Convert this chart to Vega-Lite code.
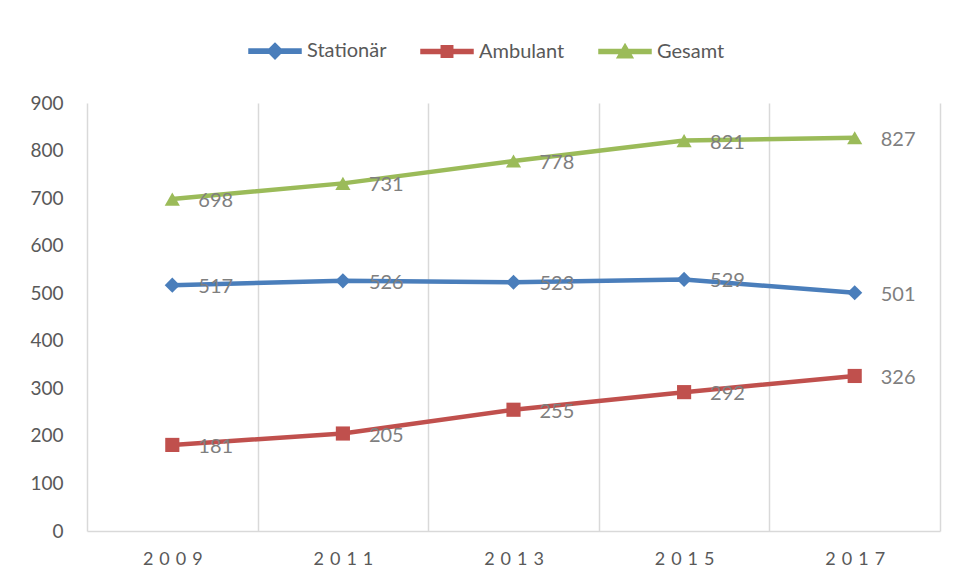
{
  "$schema": "https://vega.github.io/schema/vega-lite/v6.json",
  "width": 853,
  "height": 428,
  "autosize": {"type": "none"},
  "padding": {"left": 87, "top": 103, "right": 20, "bottom": 49},
  "background": "white",
  "config": {"view": {"stroke": null}, "font": "Lato"},
  "data": {
    "values": [
      {"year": "2009", "series": "Stationär", "value": 517},
      {"year": "2011", "series": "Stationär", "value": 526},
      {"year": "2013", "series": "Stationär", "value": 523},
      {"year": "2015", "series": "Stationär", "value": 529},
      {"year": "2017", "series": "Stationär", "value": 501},
      {"year": "2009", "series": "Ambulant", "value": 181},
      {"year": "2011", "series": "Ambulant", "value": 205},
      {"year": "2013", "series": "Ambulant", "value": 255},
      {"year": "2015", "series": "Ambulant", "value": 292},
      {"year": "2017", "series": "Ambulant", "value": 326},
      {"year": "2009", "series": "Gesamt", "value": 698},
      {"year": "2011", "series": "Gesamt", "value": 731},
      {"year": "2013", "series": "Gesamt", "value": 778},
      {"year": "2015", "series": "Gesamt", "value": 821},
      {"year": "2017", "series": "Gesamt", "value": 827}
    ]
  },
  "encoding": {
    "x": {
      "field": "year",
      "type": "ordinal",
      "scale": {"type": "band", "paddingInner": 0, "paddingOuter": 0},
      "axis": {
        "title": null,
        "tickBand": "extent",
        "grid": true,
        "gridColor": "#d9d9d9",
        "gridWidth": 1.5,
        "ticks": false,
        "domainColor": "#d9d9d9",
        "domainWidth": 1.5,
        "labelAngle": 0,
        "labelFontSize": 18,
        "labelColor": "#595959",
        "labelPadding": 19,
        "labelExpr": "join(split(datum.label, ''), '\u2004')"
      }
    },
    "y": {
      "field": "value",
      "type": "quantitative",
      "scale": {"domain": [0, 900], "nice": false},
      "axis": {
        "title": null,
        "grid": false,
        "ticks": false,
        "domain": false,
        "values": [0, 100, 200, 300, 400, 500, 600, 700, 800, 900],
        "labelFontSize": 19,
        "labelColor": "#595959",
        "labelPadding": 24
      }
    },
    "color": {
      "field": "series",
      "type": "nominal",
      "scale": {"domain": ["Stationär", "Ambulant", "Gesamt"], "range": ["#4a7ebb", "#c0504d", "#9bbb59"]},
      "legend": {
        "orient": "none",
        "legendX": 161,
        "legendY": -79,
        "direction": "horizontal",
        "title": null,
        "symbolSize": 2704,
        "labelFontSize": 20,
        "labelColor": "#595959",
        "labelOffset": 5,
        "columnPadding": 31,
        "encode": {
          "symbols": {
            "update": {
              "shape": {"signal": "datum.value === 'Stationär' ? 'M-1,-0.08H1V0.08H-1Z M0,-0.3L0.3,0L0,0.3L-0.3,0Z' : datum.value === 'Ambulant' ? 'M-1,-0.08H1V0.08H-1Z M-0.22,-0.22H0.22V0.22H-0.22Z' : 'M-1,-0.08H1V0.08H-1Z M0,-0.28L0.3,0.24H-0.3Z'"},
              "fill": {"scale": "color", "field": "value"},
              "stroke": {"value": "transparent"},
              "size": {"value": 2704},
              "opacity": {"value": 1}
            }
          }
        }
      }
    }
  },
  "layer": [
    {
      "mark": {"type": "line", "strokeWidth": 4.5}
    },
    {
      "transform": [{"filter": "datum.series === 'Stationär'"}],
      "mark": {"type": "point", "filled": true, "size": 230, "opacity": 1, "shape": "diamond"}
    },
    {
      "transform": [{"filter": "datum.series === 'Ambulant'"}],
      "mark": {"type": "point", "filled": true, "size": 200, "opacity": 1, "shape": "square"}
    },
    {
      "transform": [{"filter": "datum.series === 'Gesamt'"}],
      "mark": {"type": "point", "filled": true, "size": 230, "opacity": 1, "shape": "triangle-up"}
    },
    {
      "mark": {"type": "text", "align": "left", "baseline": "middle", "dx": 26, "dy": 2, "fontSize": 20, "color": "#7f7f7f"},
      "encoding": {"text": {"field": "value", "type": "quantitative"}, "color": {"value": "#7f7f7f"}}
    }
  ]
}
